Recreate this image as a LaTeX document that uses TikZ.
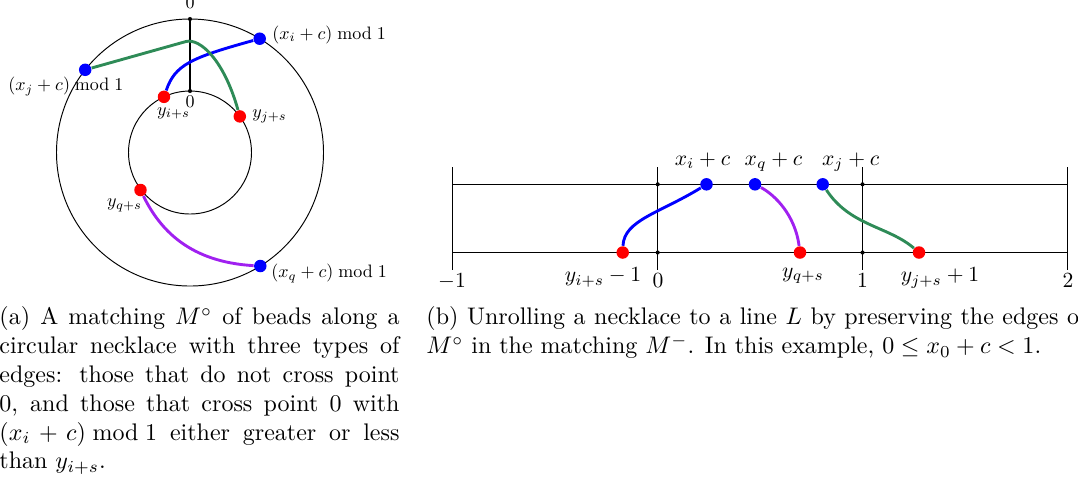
\documentclass[tikz,border=0pt]{standalone}
\usepackage{amsmath}
\definecolor{edgegreen}{RGB}{46,139,87}
\definecolor{edgepurple}{RGB}{160,32,240}
\begin{document}
\begin{tikzpicture}[x=0.41667pt,y=-0.41667pt,
  bead/.style={circle,inner sep=0pt,minimum size=5.2pt},
  tickdot/.style={circle,fill=black,inner sep=0pt,minimum size=1.7pt},
  lbl/.style={inner sep=0pt},
  circlbl/.style={lbl,scale=0.75},
  linelbl/.style={lbl,scale=0.9},
  match/.style={very thick}]
\useasboundingbox (0,0) rectangle (1078,482);

\coordinate (ctr) at (190,152.5);
\draw (ctr) circle (133.5);
\draw (ctr) circle (61.5);
\node[tickdot] (top0) at (190,19) {};
\node[tickdot] (in0) at (190,91) {};
\draw[very thick] (top0.center) -- (in0.center);
\node[circlbl] (ltop0) at (190,3) {$0$};
\node[circlbl] (lin0) at (190,101.5) {$0$};

\node[bead,fill=blue] (xi) at (259.7,38.7) {};
\node[bead,fill=blue] (xj) at (85.2,69.8) {};
\node[bead,fill=blue] (xq) at (260.3,266) {};
\node[bead,fill=red] (yi) at (164,96.8) {};
\node[bead,fill=red] (yj) at (239.8,116.4) {};
\node[bead,fill=red] (yq) at (140.5,190) {};

\draw[match,blue] (yi) .. controls (175,65) and (190,58) .. (xi);
\draw[match,edgegreen] (xj) -- (186,41.5) .. controls (200,38) and (224,60) .. (yj);
\draw[match,edgepurple] (yq) .. controls (160,230) and (190,262) .. (xq);

\node[circlbl,anchor=west] (lxi) at (272,34.5) {$(x_i + c) \bmod 1$};
\node[circlbl,anchor=west] (lxj) at (8,86.5) {$(x_j + c) \bmod 1$};
\node[circlbl,anchor=west] (lxq) at (271,273.5) {$(x_q + c) \bmod 1$};
\node[circlbl] (lyi) at (173.5,113.5) {$y_{i+s}$};
\node[circlbl,anchor=west] (lyj) at (252,116.5) {$y_{j+s}$};
\node[circlbl] (lyq) at (124.5,205.5) {$y_{q+s}$};

\draw (452.9,184.3) -- (1067.3,184.3);
\draw (452.9,252.5) -- (1067.3,252.5);
\foreach \x in {452.9,657.7,862.5,1067.3}
  \draw (\x,167) -- (\x,270);
\foreach \x in {657.7,862.5}{
  \node[tickdot] at (\x,184.3) {};
  \node[tickdot] at (\x,252.5) {};
}
\node[linelbl,anchor=base] (lm1) at (452,287) {$-1$};
\node[linelbl,anchor=base] (lz) at (658,287) {$0$};
\node[linelbl,anchor=base] (lone) at (862.5,287) {$1$};
\node[linelbl,anchor=base] (ltwo) at (1068,287) {$2$};

\node[bead,fill=blue] (bi) at (706.5,184.3) {};
\node[bead,fill=blue] (bq) at (755,184.3) {};
\node[bead,fill=blue] (bj) at (822.7,184.3) {};
\node[bead,fill=red] (ri) at (622.7,252.5) {};
\node[bead,fill=red] (rq) at (800,252.5) {};
\node[bead,fill=red] (rj) at (919,252.5) {};

\draw[match,blue] (ri) .. controls (624,220) and (660,213) .. (bi);
\draw[match,edgepurple] (bq) .. controls (775,195) and (795,215) .. (rq);
\draw[match,edgegreen] (bj) .. controls (850,226) and (888,226) .. (rj);

\node[linelbl,anchor=base] (lbi) at (702.5,165) {$x_i + c$};
\node[linelbl,anchor=base] (lbq) at (773.5,165) {$x_q + c$};
\node[linelbl,anchor=base] (lbj) at (850.7,165) {$x_j + c$};
\node[linelbl,anchor=north] (lri) at (603,267.5) {$y_{i+s} - 1$};
\node[linelbl,anchor=north] (lrq) at (803,267.5) {$y_{q+s}$};
\node[linelbl,anchor=north] (lrj) at (940,267.5) {$y_{j+s} + 1$};

\node[lbl,anchor=north west,text width=166.7pt,align=justify] (capa) at (-1,306.5)
  {(a) A matching $M^\circ$ of beads along a\linebreak circular necklace with three types of\linebreak
   edges: those that do not cross point\linebreak 0, and those that cross point 0 with\linebreak
   $(x_i + c) \bmod 1$ either greater or less\linebreak than $y_{i+s}$.};
\node[lbl,anchor=north west,text width=275pt,align=justify] (capb) at (426,306.5)
  {(b) Unrolling a necklace to a line $L$ by preserving the edges of\linebreak
   $M^\circ$ in the matching $M^-$. In this example, $0 \leq x_0 + c < 1$.};
\end{tikzpicture}
\end{document}
